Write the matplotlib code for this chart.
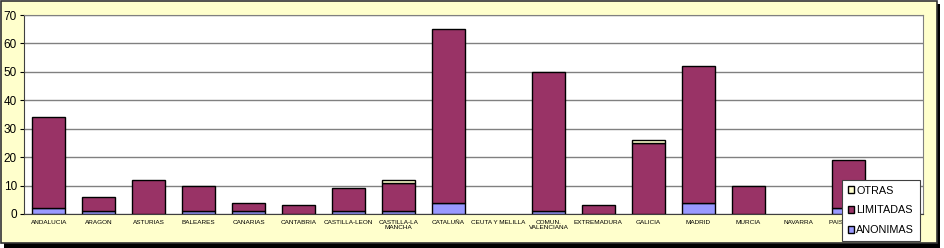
import matplotlib.pyplot as plt
import numpy as np
from matplotlib.patches import Rectangle, Patch

plt.rcParams['font.family'] = ['Liberation Sans', 'DejaVu Sans']

regions = ["ANDALUCIA", "ARAGON", "ASTURIAS", "BALEARES", "CANARIAS", "CANTABRIA",
           "CASTILLA-LEON", "CASTILLA-LA\nMANCHA", "CATALUÑA", "CEUTA Y MELILLA",
           "COMUN.\nVALENCIANA", "EXTREMADURA", "GALICIA", "MADRID", "MURCIA",
           "NAVARRA", "PAIS VASCO", "RIOJA"]
anonimas = [2, 1, 0, 1, 1, 0, 1, 1, 4, 0, 1, 0, 0, 4, 0, 0, 2, 0]
limitadas = [32, 5, 12, 9, 3, 3, 8, 10, 61, 0, 49, 3, 25, 48, 10, 0, 17, 0]
otras = [0, 0, 0, 0, 0, 0, 0, 1, 0, 0, 0, 0, 1, 0, 0, 0, 0, 0]

W, H = 944, 248
fig = plt.figure(figsize=(W / 100, H / 100), dpi=100, facecolor='white')

# chart frame with shadow
fig.patches.append(Rectangle((4 / W, 0), 936 / W, 244 / H, transform=fig.transFigure,
                             facecolor='black', edgecolor='none', zorder=-2))
fig.patches.append(Rectangle((1 / W, 5 / H), 936 / W, 242 / H, transform=fig.transFigure,
                             facecolor='#FFFFCC', edgecolor='#333333', linewidth=1.2, zorder=-1))

ax = fig.add_axes([24 / W, (H - 214) / H, 899 / W, 199 / H])
ax.set_facecolor('white')

x = np.arange(len(regions))
anon = np.array(anonimas)
lim = np.array(limitadas)
otr = np.array(otras)
colors = {'ANONIMAS': '#9999FF', 'LIMITADAS': '#993366', 'OTRAS': '#FFFFCC'}
bw = 0.66
kw = dict(width=bw, edgecolor='black', linewidth=1.0, zorder=3)
b1 = ax.bar(x, anon, color=colors['ANONIMAS'], **kw)
b2 = ax.bar(x, lim, bottom=anon, color=colors['LIMITADAS'], **kw)
b3 = ax.bar(x, otr, bottom=anon + lim, color=colors['OTRAS'], **kw)
# hide empty segments so they don't leave a stray edge line
for bars, vals in ((b1, anon), (b2, lim), (b3, otr)):
    for rect, v in zip(bars, vals):
        if v == 0:
            rect.set_visible(False)

ax.set_xlim(-0.5, len(regions) - 0.5)
ax.set_ylim(0, 70)
ax.set_yticks(range(0, 71, 10))
ax.yaxis.grid(True, color='#808080', linewidth=1.0, zorder=0)
ax.set_axisbelow(True)
ax.tick_params(axis='y', labelsize=8.5, length=3, pad=2, colors='black')
ax.set_xticks(x)
ax.set_xticklabels(regions, fontsize=4.6, linespacing=1.0)
ax.tick_params(axis='x', length=0, pad=4)
for s in ['top', 'right']:
    ax.spines[s].set_color('#808080')
ax.spines['left'].set_color('#404040')
ax.spines['bottom'].set_color('#404040')

handles = [Patch(facecolor=colors[k], edgecolor='black', linewidth=1.0, label=k)
           for k in ['OTRAS', 'LIMITADAS', 'ANONIMAS']]
leg = ax.legend(handles=handles, loc='lower right',
                bbox_to_anchor=(920 / W, 7 / H), bbox_transform=fig.transFigure,
                borderaxespad=0, fontsize=7.8, frameon=True, fancybox=False,
                framealpha=1, edgecolor='#404040', handlelength=0.6, handleheight=0.6,
                handletextpad=0.2, labelspacing=0.9, borderpad=0.55)
leg.get_frame().set_linewidth(0.8)
leg.set_zorder(5)

fig.savefig('out.png', dpi=100, facecolor=fig.get_facecolor())
